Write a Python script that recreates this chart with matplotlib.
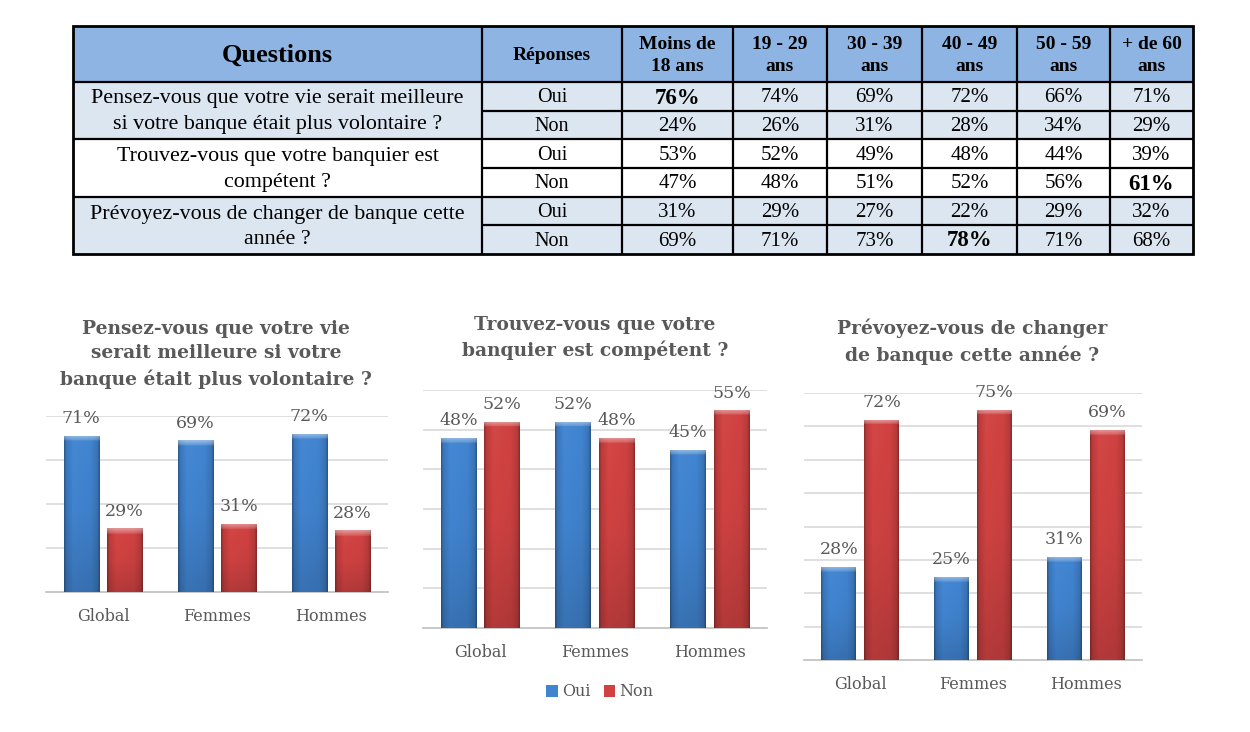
import numpy as np
import matplotlib
matplotlib.use("Agg")
import matplotlib.pyplot as plt
from matplotlib.patches import Rectangle
from matplotlib.colors import to_rgb

# ---------------- data ----------------
table_header = ["Questions", "Réponses", "Moins de\n18 ans", "19 - 29\nans", "30 - 39\nans",
                "40 - 49\nans", "50 - 59\nans", "+ de 60\nans"]
questions_table = ["Pensez-vous que votre vie serait meilleure\nsi votre banque était plus volontaire ?",
                   "Trouvez-vous que votre banquier est\ncompétent ?",
                   "Prévoyez-vous de changer de banque cette\nannée ?"]
answers = ["Oui", "Non"]
q1_oui = [76, 74, 69, 72, 66, 71]
q1_non = [24, 26, 31, 28, 34, 29]
q2_oui = [53, 52, 49, 48, 44, 39]
q2_non = [47, 48, 51, 52, 56, 61]
q3_oui = [31, 29, 27, 22, 29, 32]
q3_non = [69, 71, 73, 78, 71, 68]
highlight = [(0, 0), (3, 5), (5, 3)]  # (row, age column) in bold

groups = ["Global", "Femmes", "Hommes"]
chart_titles = ["Pensez-vous que votre vie\nserait meilleure si votre\nbanque était plus volontaire ?",
                "Trouvez-vous que votre\nbanquier est compétent ?",
                "Prévoyez-vous de changer\nde banque cette année ?"]
c1_oui = [71, 69, 72]
c1_non = [29, 31, 28]
c2_oui = [48, 52, 45]
c2_non = [52, 48, 55]
c3_oui = [28, 25, 31]
c3_non = [72, 75, 69]
legend_labels = ["Oui", "Non"]

# ---------------- figure ----------------
W, H = 1250, 732
fig = plt.figure(figsize=(W / 100, H / 100), dpi=100)
fig.patch.set_facecolor("white")

TFONT = "Liberation Serif"
CFONT = "DejaVu Serif"
GREY = "#595959"

# ---------------- table ----------------
axt = fig.add_axes([0, 0, 1, 1])
axt.set_xlim(0, W)
axt.set_ylim(H, 0)
axt.axis("off")

cols = [73, 482, 622, 733, 827, 922, 1017, 1110, 1193]
rows = [26, 82, 111, 139, 168, 197, 225, 254]
HEAD = "#8DB4E2"
LIGHT = "#DCE6F1"

axt.add_patch(Rectangle((cols[0], rows[0]), cols[-1] - cols[0], rows[1] - rows[0],
                        facecolor=HEAD, edgecolor="none"))
for qi in range(3):
    if qi != 1:
        y0 = rows[1 + 2 * qi]
        y1 = rows[3 + 2 * qi]
        axt.add_patch(Rectangle((cols[0], y0), cols[-1] - cols[0], y1 - y0,
                                facecolor=LIGHT, edgecolor="none"))

lw = 1.6
for x in cols[1:-1]:
    axt.plot([x, x], [rows[0], rows[-1]], color="black", lw=lw, solid_capstyle="butt")
for i, y in enumerate(rows[1:-1], start=1):
    if i % 2 == 0:
        axt.plot([cols[1], cols[-1]], [y, y], color="black", lw=lw, solid_capstyle="butt")
    else:
        axt.plot([cols[0], cols[-1]], [y, y], color="black", lw=lw, solid_capstyle="butt")
axt.add_patch(Rectangle((cols[0], rows[0]), cols[-1] - cols[0], rows[-1] - rows[0],
                        facecolor="none", edgecolor="black", lw=2.0))

for j, h in enumerate(table_header):
    xc = (cols[j] + cols[j + 1]) / 2
    yc = (rows[0] + rows[1]) / 2
    size = 19 if j == 0 else 14
    axt.text(xc, yc + 1.5, h, ha="center", va="center", fontsize=size, fontweight="bold",
             family=TFONT, linespacing=1.45)

table_vals = [q1_oui, q1_non, q2_oui, q2_non, q3_oui, q3_non]
for qi, q in enumerate(questions_table):
    yc = (rows[1 + 2 * qi] + rows[3 + 2 * qi]) / 2
    axt.text((cols[0] + cols[1]) / 2, yc + 1.5, q, ha="center", va="center", fontsize=15.8,
             family=TFONT, linespacing=1.5)
for r in range(6):
    yc = (rows[1 + r] + rows[2 + r]) / 2
    axt.text((cols[1] + cols[2]) / 2, yc + 1.5, answers[r % 2], ha="center", va="center",
             fontsize=14.5, family=TFONT)
    for j, v in enumerate(table_vals[r]):
        xc = (cols[2 + j] + cols[3 + j]) / 2
        bold = (r, j) in highlight
        axt.text(xc, yc + 1.5, f"{v}%", ha="center", va="center",
                 fontsize=16.5 if bold else 15, fontweight="bold" if bold else "normal",
                 family=TFONT)

# ---------------- bar charts ----------------
BLUE = "#4184D0"
RED = "#D04242"


def shade(color, f):
    c = np.array(to_rgb(color))
    if f >= 1:
        return c + (1 - c) * (f - 1)
    return c * f


def gradient_bar(ax, bar, color, px_per_unit):
    x0, y0 = bar.get_x(), bar.get_y()
    w, h = bar.get_width(), bar.get_height()
    nx, ny = 60, 200
    xs = np.linspace(0, 1, nx)
    prof = np.interp(xs, [0, 0.06, 0.25, 0.75, 0.94, 1], [0.68, 0.9, 1.03, 1.0, 0.88, 0.66])
    ys = np.linspace(0, 1, ny)  # 0 = top
    vprof = np.interp(ys, [0, 0.5, 1], [1.0, 0.96, 0.84])
    img = np.zeros((ny, nx, 3))
    for i in range(ny):
        for k in range(nx):
            img[i, k] = np.clip(shade(color, prof[k] * vprof[i]), 0, 1)
    bevel_px = 6
    hb = bevel_px / px_per_unit / h if h > 0 else 0
    nb = max(1, int(hb * ny))
    for i in range(nb):
        t = i / nb
        img[i] = np.clip(img[i] + (1 - img[i]) * (0.35 * (1 - t) + 0.1), 0, 1)
    im = ax.imshow(img, extent=[x0, x0 + w, y0, y0 + h], aspect="auto", zorder=3,
                   interpolation="bilinear")
    im.set_clip_path(bar)


def bar_chart(rect_px, ymax, step, oui, non, title, title_xy):
    left, right, top, base = rect_px
    ax = fig.add_axes([left / W, 1 - base / H, (right - left) / W, (base - top) / H])
    x = np.arange(len(groups))
    bw, gap = 0.31, 0.07
    b1 = ax.bar(x - (bw + gap) / 2, oui, bw, color=BLUE, zorder=2, label=legend_labels[0])
    b2 = ax.bar(x + (bw + gap) / 2, non, bw, color=RED, zorder=2, label=legend_labels[1])
    ax.set_xlim(-0.5, len(groups) - 0.5)
    ax.set_ylim(0, ymax)
    ppu = (base - top) / ymax
    for bars, col in ((b1, BLUE), (b2, RED)):
        for b in bars:
            gradient_bar(ax, b, col, ppu)
            ax.annotate(f"{int(round(b.get_height()))}%",
                        (b.get_x() + b.get_width() / 2, b.get_height()),
                        xytext=(0, 6), textcoords="offset points", ha="center", va="bottom",
                        fontsize=12.5, color=GREY, family=CFONT)
    ax.set_yticks(np.arange(step, ymax + 0.01, step))
    ax.yaxis.grid(True, color="#D9D9D9", lw=1.2)
    ax.set_axisbelow(True)
    ax.tick_params(axis="y", left=False, labelleft=False)
    ax.tick_params(axis="x", bottom=False, pad=8)
    ax.set_xticks(x)
    ax.set_xticklabels(groups, fontsize=11.5, color=GREY, family=CFONT)
    for s in ("left", "right", "top"):
        ax.spines[s].set_visible(False)
    ax.spines["bottom"].set_color("#BFBFBF")
    ax.spines["bottom"].set_linewidth(1.2)
    ax.patch.set_alpha(0)
    fig.text(title_xy[0] / W, 1 - title_xy[1] / H, title, ha="center", va="top",
             fontsize=13.4, fontweight="bold", color=GREY, family=CFONT, linespacing=1.45)
    return ax, b1, b2


bar_chart((46, 388, 416, 592), 80, 20, c1_oui, c1_non, chart_titles[0], (216, 320))
ax2, lb1, lb2 = bar_chart((423, 767, 390, 628), 60, 10, c2_oui, c2_non, chart_titles[1], (595, 316))
bar_chart((804, 1142, 393, 660), 80, 10, c3_oui, c3_non, chart_titles[2], (972, 319))

leg = fig.legend(handles=[lb1, lb2], labels=legend_labels, loc="center",
                 bbox_to_anchor=(600 / W, 1 - 692 / H), ncol=2, frameon=False,
                 handlelength=0.7, handleheight=0.7, handletextpad=0.3, columnspacing=0.8,
                 prop={"family": CFONT, "size": 11.5})
for t in leg.get_texts():
    t.set_color(GREY)

fig.savefig("out.png", dpi=100)
